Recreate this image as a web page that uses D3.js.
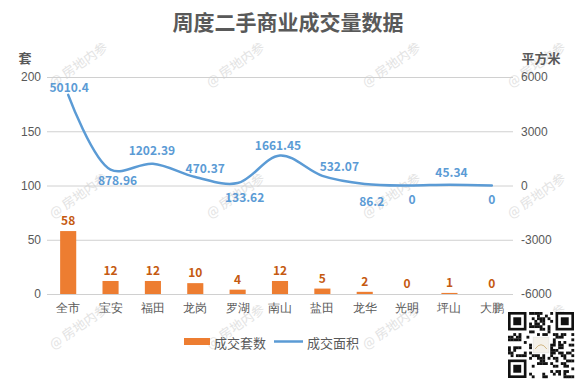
<!DOCTYPE html>
<html><head><meta charset="utf-8">
<script src="https://cdn.jsdelivr.net/npm/d3@7"></script>
<style>
html,body{margin:0;padding:0;background:#fff;}
svg{display:block;font-family:"Microsoft YaHei","Noto Sans CJK SC","Noto Sans",sans-serif;}
</style></head>
<body>
<svg id="chart" width="577" height="384"></svg>
<script>
// ---- data ----
const categories = ["全市","宝安","福田","龙岗","罗湖","南山","盐田","龙华","光明","坪山","大鹏"];
const units = [58,12,12,10,4,12,5,2,0,1,0];            // 成交套数
const area = [5010.4,878.96,1202.39,470.37,133.62,1661.45,532.07,86.2,0,45.34,0]; // 成交面积
const areaLabels = ["5010.4","878.96","1202.39","470.37","133.62","1661.45","532.07","86.2","0","45.34","0"];
const leftTicks = [0,50,100,150,200];
const rightTicks = [-6000,-3000,0,3000,6000];
const seriesNames = ["成交套数","成交面积"];
const title = "周度二手商业成交量数据";
// label placement for the line labels (dx, dy from point)
const areaLabelPlacement = [[1,-8],[7,10],[-1,-14],[10,-9],[7,13],[-2,-11],[17,-10],[7,17],[5,13],[2,-13],[0,13]];

const W = 577, H = 384;
const m = {left:47, right:64, top:77, bottom:90};
const svg = d3.select("#chart");
const grey = "#595959";
const blue = "#5b9bd5", orange = "#ed7d31", orangeText = "#c55a11";

// watermarks
const wmX = [78,235,391,536], wmY = [64,195,326];
const wm = svg.append("g");
wmY.forEach(y => wmX.forEach(x => {
  wm.append("text").attr("transform",`translate(${x},${y}) rotate(-35)`)
    .attr("text-anchor","middle").attr("dominant-baseline","central")
    .attr("font-size",13).attr("fill","#e3e3e3").text("@ 房地内参");
}));

const x = d3.scaleBand().domain(categories).range([m.left, W-m.right]).paddingInner(0.62).paddingOuter(0.31);
const xc = d => x(d) + x.bandwidth()/2;
const yL = d3.scaleLinear().domain([0,200]).range([H-m.bottom, m.top]);
const yR = d3.scaleLinear().domain([-6000,6000]).range([H-m.bottom, m.top]);

// title
svg.append("text").attr("x",288).attr("y",30).attr("text-anchor","middle")
  .attr("font-size",21).attr("font-weight","bold").attr("fill",grey).text(title);

// gridlines
svg.append("g").selectAll("line").data(leftTicks).join("line")
  .attr("x1",m.left).attr("x2",W-m.right)
  .attr("y1",d=>yL(d)+0.5).attr("y2",d=>yL(d)+0.5)
  .attr("stroke","#d0d0d0").attr("stroke-width",1);

// left axis
const axL = svg.append("g").attr("transform",`translate(${m.left-6},0)`)
  .call(d3.axisLeft(yL).tickValues(leftTicks).tickSize(0).tickPadding(0).tickFormat(d=>String(d)));
axL.select(".domain").remove();
axL.selectAll("text").attr("font-size",12).attr("fill",grey).attr("font-family",null);

// right axis
const axR = svg.append("g").attr("transform",`translate(${W-m.right+8},0)`)
  .call(d3.axisRight(yR).tickValues(rightTicks).tickSize(0).tickPadding(0).tickFormat(d=>String(d)));
axR.select(".domain").remove();
axR.selectAll("text").attr("font-size",12).attr("fill",grey).attr("font-family",null);

// axis titles
svg.append("text").attr("x",25).attr("y",63).attr("text-anchor","middle")
  .attr("font-size",13).attr("font-weight","bold").attr("fill",grey).text("套");
svg.append("text").attr("x",541).attr("y",63).attr("text-anchor","middle")
  .attr("font-size",13).attr("font-weight","bold").attr("fill",grey).text("平方米");

// x axis labels
const axB = svg.append("g").attr("transform",`translate(0,${H-m.bottom})`)
  .call(d3.axisBottom(x).tickSize(0).tickPadding(9));
axB.select(".domain").remove();
axB.selectAll("text").attr("font-size",12).attr("fill",grey).attr("font-family",null);

// bars
svg.append("g").selectAll("rect").data(units).join("rect")
  .attr("x",(d,i)=>x(categories[i])).attr("width",x.bandwidth())
  .attr("y",d=>yL(d)).attr("height",d=>yL(0)-yL(d)).attr("fill",orange);

svg.append("g").selectAll("text").data(units).join("text")
  .attr("x",(d,i)=>xc(categories[i])).attr("y",d=>yL(d)-6)
  .attr("text-anchor","middle").attr("font-size",12).attr("font-weight","bold")
  .attr("fill",orangeText).text(d=>d);

// line
const line = d3.line().x((d,i)=>xc(categories[i])).y(d=>yR(d)).curve(d3.curveCatmullRom.alpha(0.5));
svg.append("path").datum(area).attr("d",line).attr("fill","none")
  .attr("stroke",blue).attr("stroke-width",2.5).attr("stroke-linecap","round");

svg.append("g").selectAll("text").data(area).join("text")
  .attr("x",(d,i)=>xc(categories[i])+areaLabelPlacement[i][0])
  .attr("y",(d,i)=>yR(d)+areaLabelPlacement[i][1])
  .attr("text-anchor","middle").attr("dominant-baseline","central")
  .attr("font-size",12).attr("font-weight","bold").attr("fill",blue)
  .text((d,i)=>areaLabels[i]);

// legend
const lg = svg.append("g");
lg.append("rect").attr("x",184).attr("y",338).attr("width",26).attr("height",7).attr("fill",orange);
lg.append("text").attr("x",214).attr("y",342).attr("dominant-baseline","central")
  .attr("font-size",13).attr("fill",grey).text(seriesNames[0]);
lg.append("line").attr("x1",274).attr("x2",303).attr("y1",341.5).attr("y2",341.5)
  .attr("stroke",blue).attr("stroke-width",2.5);
lg.append("text").attr("x",307).attr("y",342).attr("dominant-baseline","central")
  .attr("font-size",13).attr("fill",grey).text(seriesNames[1]);

// QR-like decorative badge
const qr = svg.append("g").attr("transform","translate(508,312)");
const N = 25, s = 66/N;
qr.append("rect").attr("width",66).attr("height",66).attr("fill","#fff");
function finder(cx,cy){
  qr.append("rect").attr("x",cx*s).attr("y",cy*s).attr("width",7*s).attr("height",7*s).attr("fill","#111");
  qr.append("rect").attr("x",(cx+1)*s).attr("y",(cy+1)*s).attr("width",5*s).attr("height",5*s).attr("fill","#fff");
  qr.append("rect").attr("x",(cx+2)*s).attr("y",(cy+2)*s).attr("width",3*s).attr("height",3*s).attr("fill","#111");
}
for(let i=0;i<N;i++) for(let j=0;j<N;j++){
  const inF = (i<8&&j<8)||(i>=N-8&&j<8)||(i<8&&j>=N-8);
  const inC = i>=9&&i<=15&&j>=9&&j<=15;
  if(inF||inC) continue;
  const v = ((i*31 + j*17 + (i*j)%7) ^ (i+3*j)) % 5;
  if(v<2) qr.append("rect").attr("x",i*s).attr("y",j*s).attr("width",s+0.2).attr("height",s+0.2).attr("fill","#111");
}
finder(0,0); finder(N-7,0); finder(0,N-7);
qr.append("rect").attr("x",9.5*s).attr("y",9.5*s).attr("width",6*s).attr("height",6*s).attr("fill","#f4f1ea").attr("stroke","#ddd").attr("stroke-width",0.5);
qr.append("path").attr("d",`M${10.3*s},${14*s} Q${12.5*s},${10.8*s} ${14.7*s},${14*s}`).attr("fill","none").attr("stroke","#c9a86a").attr("stroke-width",0.8);
</script>
</body></html>
